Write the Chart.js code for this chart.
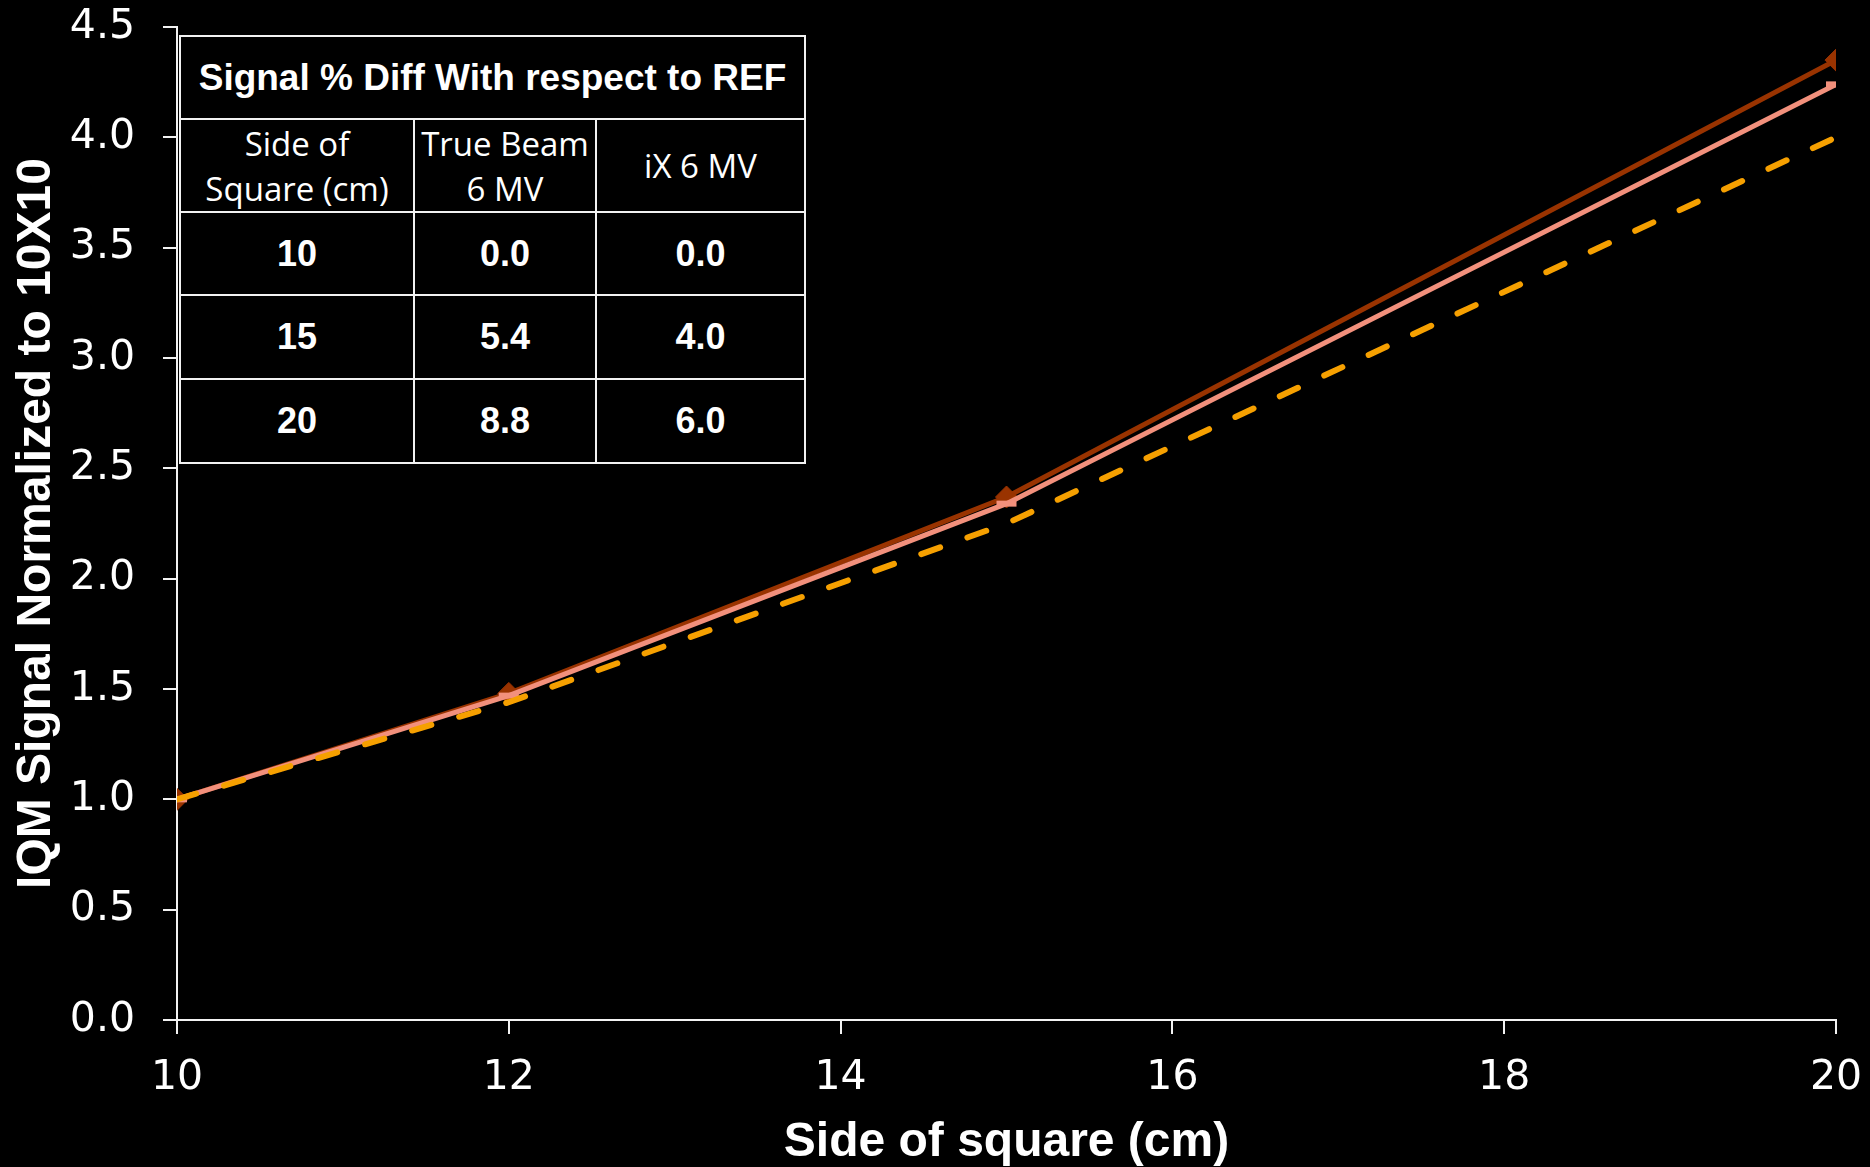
<!DOCTYPE html>
<html>
<head>
<meta charset="utf-8">
<script src="https://cdn.jsdelivr.net/npm/chart.js@4"></script>
<style>
  body { margin: 0; background: #000; }
  #wrap { position: relative; width: 1870px; height: 1167px; }
  #diffTable {
    position: absolute; left: 179px; top: 35px; width: 625px; height: 429px;
    border-collapse: collapse; table-layout: fixed; color: #fff; background: #000;
  }
  #diffTable td { border: 2.5px solid #f2f2f2; text-align: center; vertical-align: middle; padding: 0; }
  #diffTable .title { font: bold 37px "Liberation Sans", Arial, sans-serif; }
  #diffTable .head { font: 33px/45px "Open Sans", sans-serif; }
  #diffTable .num { font: bold 36px "Liberation Sans", Arial, sans-serif; }
</style>
</head>
<body>
<div id="wrap">
  <canvas id="chart" width="1870" height="1167"></canvas>
  <table id="diffTable">
    <colgroup><col style="width:234px"><col style="width:182px"><col style="width:209px"></colgroup>
    <tr style="height:83px"><td class="title" colspan="3">Signal % Diff With respect to REF</td></tr>
    <tr style="height:93px">
      <td class="head">Side of<br>Square (cm)</td>
      <td class="head">True Beam<br>6 MV</td>
      <td class="head">iX 6 MV</td>
    </tr>
  </table>
</div>
<script>
// side of square (cm)
const sides = [10, 12, 15, 20];

// IQM signal normalized to 10x10
const trueBeam6MV = [1.0, 1.48, 2.37, 4.35];
const iX6MV = [1.0, 1.47, 2.34, 4.24];
const ref = [1.0, 1.44, 2.25, 4.0];

// % diff table
const tableSides = ['10', '15', '20'];
const tableTrueBeam = ['0.0', '5.4', '8.8'];
const tableIX = ['0.0', '4.0', '6.0'];

// fill table rows
const table = document.querySelector('#diffTable');
tableSides.forEach((s, i) => {
    const tr = document.createElement('tr');
    tr.style.height = (i === 0 ? 83 : 84) + 'px';
    [s, tableTrueBeam[i], tableIX[i]].forEach(v => {
        const td = document.createElement('td');
        td.className = 'num';
        td.textContent = v;
        tr.appendChild(td);
    });
    table.appendChild(tr);
});

const toXY = vals => sides.map((x, i) => ({ x: x, y: vals[i] }));

const ctx = document.querySelector('#chart').getContext('2d');

new Chart(ctx, {
    type: 'line',
    data: {
        datasets: [
            {
                label: 'REF',
                data: toXY(ref),
                borderColor: '#f6a000',
                borderWidth: 6,
                borderDash: [20, 29],
                borderCapStyle: 'round',
                pointRadius: 0
            },
            {
                label: 'iX 6 MV',
                data: toXY(iX6MV),
                borderColor: '#f2907c',
                borderWidth: 5,
                pointStyle: 'line',
                pointRadius: 10,
                pointBorderWidth: 6,
                pointBorderColor: '#f2907c'
            },
            {
                label: 'True Beam 6 MV',
                data: toXY(trueBeam6MV),
                borderColor: '#993300',
                borderWidth: 5,
                pointStyle: 'rectRot',
                pointRadius: 11,
                pointBackgroundColor: '#993300',
                pointBorderColor: '#993300',
                pointBorderWidth: 1
            }
        ]
    },
    options: {
        responsive: false,
        animation: false,
        layout: { padding: 0 },
        plugins: { legend: { display: false }, tooltip: { enabled: false } },
        scales: {
            x: {
                type: 'linear',
                min: 10,
                max: 20,
                border: { color: '#f2f2f2', width: 2 },
                grid: { drawOnChartArea: false, drawTicks: true, tickLength: 14, color: '#f2f2f2', lineWidth: 2 },
                ticks: { stepSize: 2, color: '#fff', padding: 20, font: { family: 'DejaVu Sans', size: 41 } },
                title: {
                    display: true,
                    text: 'Side of square (cm)',
                    color: '#fff',
                    padding: { top: 0, bottom: 0 },
                    font: { family: 'Liberation Sans', size: 48, weight: 'bold', lineHeight: 1.0 }
                },
                afterFit: scale => {
                    scale.height = 147;
                    scale.paddingLeft = 0;
                    scale.paddingRight = 34;
                }
            },
            y: {
                min: 0,
                max: 4.5,
                border: { color: '#f2f2f2', width: 2 },
                grid: { drawOnChartArea: false, drawTicks: true, tickLength: 14, color: '#f2f2f2', lineWidth: 2 },
                ticks: {
                    stepSize: 0.5,
                    color: '#fff',
                    padding: 28,
                    font: { family: 'DejaVu Sans', size: 41 },
                    callback: v => v.toFixed(1)
                },
                title: {
                    display: true,
                    text: 'IQM Signal Normalized to 10X10',
                    color: '#fff',
                    padding: { top: 8, bottom: 8 },
                    font: { family: 'Liberation Sans', size: 48, weight: 'bold', lineHeight: 1.2 }
                },
                afterFit: scale => {
                    scale.width = 177;
                    scale.paddingTop = 27;
                    scale.paddingBottom = 0;
                }
            }
        }
    }
});
</script>
</body>
</html>
